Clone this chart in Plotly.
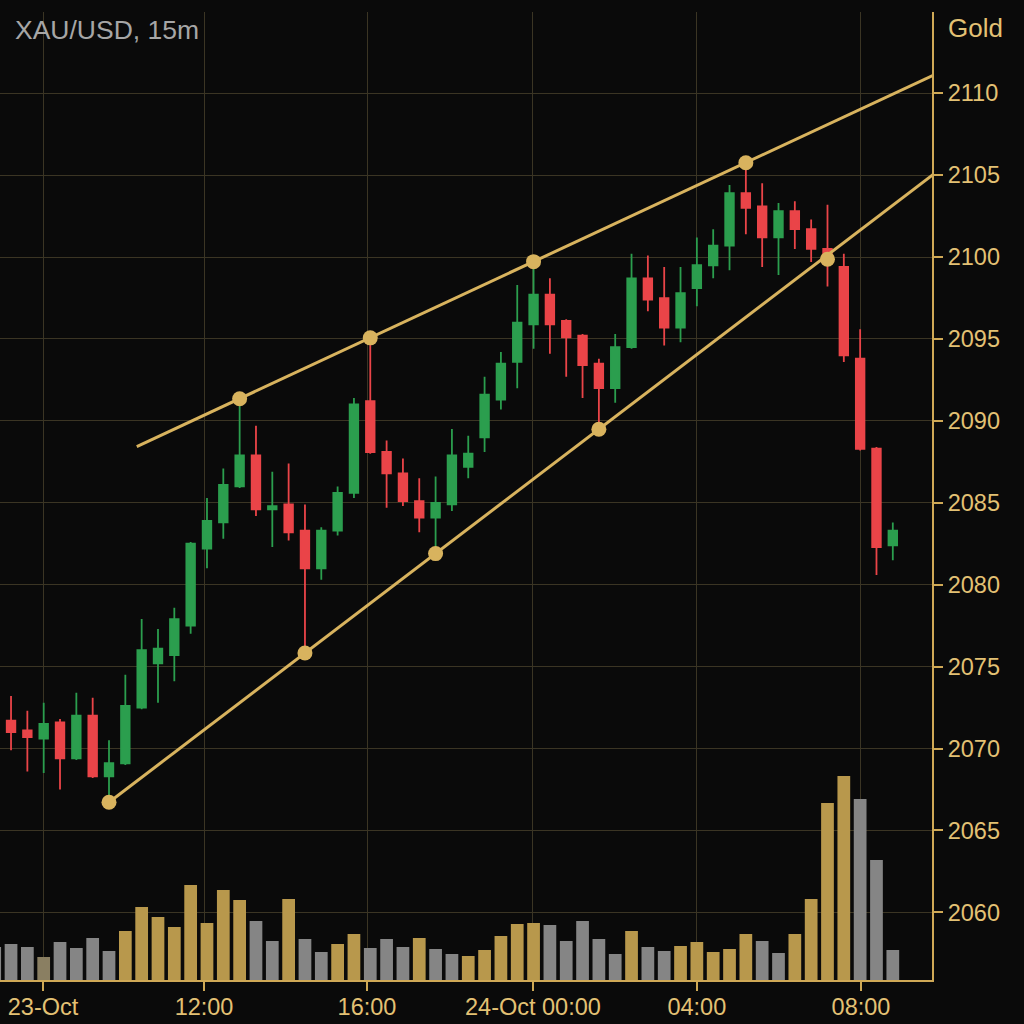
import plotly.graph_objects as go

# ---------------- data ----------------
candle_idx = list(range(56))
opens = [2071.2, 2071.7, 2071.1, 2070.6, 2071.6, 2069.4, 2072.0, 2068.3, 2069.1, 2072.5,
         2075.2, 2075.7, 2077.5, 2082.2, 2083.8, 2086.0, 2087.9, 2084.6, 2084.9, 2083.3,
         2081.0, 2083.3, 2085.6, 2091.2, 2088.1, 2086.8, 2085.1, 2084.1, 2084.9, 2087.2,
         2089.0, 2091.3, 2093.6, 2095.9, 2097.7, 2096.1, 2095.2, 2093.5, 2092.0, 2094.5,
         2098.7, 2097.5, 2095.7, 2098.1, 2099.5, 2100.7, 2103.9, 2103.1, 2101.2, 2102.8,
         2101.7, 2100.5, 2099.4, 2093.8, 2088.3, 2082.4]
highs = [2072.3, 2073.2, 2072.3, 2072.8, 2071.8, 2073.4, 2073.1, 2070.5, 2074.5, 2077.9,
         2077.3, 2078.6, 2082.6, 2085.3, 2087.1, 2091.35, 2089.7, 2086.9, 2087.4, 2084.9,
         2083.5, 2086.0, 2091.4, 2095.07, 2088.8, 2087.7, 2086.5, 2086.6, 2089.5, 2089.1,
         2092.7, 2094.2, 2098.3, 2099.72, 2098.7, 2096.2, 2095.3, 2093.8, 2095.3, 2100.2,
         2100.1, 2099.4, 2099.4, 2101.2, 2101.7, 2104.4, 2105.76, 2104.5, 2103.3, 2103.4,
         2102.3, 2103.2, 2100.2, 2095.6, 2088.4, 2083.8]
lows = [2071.1, 2069.9, 2068.6, 2068.5, 2067.5, 2069.3, 2068.2, 2066.72, 2069.0, 2072.4,
        2072.8, 2074.1, 2077.0, 2081.0, 2082.8, 2085.9, 2084.2, 2082.3, 2082.7, 2075.83,
        2080.3, 2083.0, 2085.3, 2088.0, 2084.7, 2084.8, 2083.2, 2081.90, 2084.5, 2086.5,
        2088.1, 2090.7, 2092.0, 2094.4, 2094.1, 2092.7, 2091.4, 2089.49, 2091.1, 2094.4,
        2096.7, 2094.6, 2094.8, 2097.0, 2098.7, 2099.2, 2101.4, 2099.4, 2098.9, 2100.5,
        2099.7, 2098.2, 2093.6, 2088.2, 2080.6, 2081.5]
closes = [2072.2, 2071.0, 2070.7, 2071.5, 2069.4, 2072.0, 2068.3, 2069.1, 2072.6, 2076.0,
          2076.1, 2077.9, 2082.5, 2083.9, 2086.1, 2087.9, 2084.6, 2084.8, 2083.2, 2081.0,
          2083.3, 2085.6, 2091.0, 2088.1, 2086.8, 2085.1, 2084.1, 2085.0, 2087.9, 2088.0,
          2091.6, 2093.5, 2096.0, 2097.7, 2095.9, 2095.1, 2093.4, 2092.0, 2094.5, 2098.7,
          2097.4, 2095.7, 2097.8, 2099.5, 2100.7, 2103.9, 2103.0, 2101.2, 2102.8, 2101.7,
          2100.5, 2099.8, 2094.0, 2088.3, 2082.3, 2083.3]

volume = [33, 36, 33, 23, 38, 32, 42, 29, 49, 73,
          63, 53, 95, 57, 90, 80, 59, 39, 81, 41,
          28, 36, 46, 32, 41, 33, 42, 31, 26, 24,
          30, 44, 56, 57, 55, 39, 59, 41, 26, 49,
          33, 29, 34, 38, 28, 31, 46, 39, 27, 46,
          81, 177, 204, 181, 120, 30]
volume_kind = list("sssossssgggggggg" "ssgssggsssgssggggg" "sssssgssgggggssggggsss")

# trendlines (channel)
upper_line_x = [8.7, 57.5]
upper_line_y = [2088.43, 2111.11]
upper_touch_x = [15, 23, 33, 46]
upper_touch_y = [2091.35, 2095.07, 2099.72, 2105.76]
lower_line_x = [7, 57.5]
lower_line_y = [2066.72, 2105.06]
lower_touch_x = [7, 19, 27, 37, 51]
lower_touch_y = [2066.72, 2075.83, 2081.90, 2089.49, 2099.87]

x_tick_vals = [2.96, 12.82, 22.8, 32.96, 43.0, 53.05]
x_tick_text = ["23-Oct", "12:00", "16:00", "24-Oct 00:00", "04:00", "08:00"]
y_tick_vals = [2060, 2065, 2070, 2075, 2080, 2085, 2090, 2095, 2100, 2105, 2110]

# ---------------- style ----------------
BG = "#0a0a0a"
GOLD = "#e3c174"
AXIS_GOLD = "#cfa956"
LINE_GOLD = "#d8b35e"
GRID = "#3b3524"
GREEN = "#2b9e4e"
RED = "#ea4448"
VOL_COLORS = {"g": "#b8984c", "s": "#858585", "o": "#8a7f62"}
FONT = "Liberation Sans, Arial, sans-serif"

fig = go.Figure()

fig.add_trace(go.Bar(
    x=candle_idx, y=volume, yaxis="y2",
    marker=dict(color=[VOL_COLORS[k] for k in volume_kind], line=dict(width=0)),
    showlegend=False, hoverinfo="skip",
))

fig.add_trace(go.Candlestick(
    x=candle_idx, open=opens, high=highs, low=lows, close=closes,
    increasing=dict(line=dict(color=GREEN, width=1.8), fillcolor=GREEN),
    decreasing=dict(line=dict(color=RED, width=1.8), fillcolor=RED),
    whiskerwidth=0, showlegend=False,
))

for lx, ly in ((upper_line_x, upper_line_y), (lower_line_x, lower_line_y)):
    fig.add_trace(go.Scatter(x=lx, y=ly, mode="lines",
                             line=dict(color=LINE_GOLD, width=3),
                             showlegend=False, hoverinfo="skip"))

fig.add_trace(go.Scatter(
    x=upper_touch_x + lower_touch_x, y=upper_touch_y + lower_touch_y,
    mode="markers", marker=dict(color=LINE_GOLD, size=15, line=dict(width=0)),
    showlegend=False, hoverinfo="skip",
))

fig.update_layout(
    width=1024, height=1024,
    paper_bgcolor=BG, plot_bgcolor=BG,
    margin=dict(l=0, r=92, t=12, b=44),
    boxgap=0.25, bargap=0.22,
    font=dict(family=FONT, color=GOLD, size=23),
    xaxis=dict(
        range=[0.3245, 57.4], tickmode="array", tickvals=x_tick_vals, ticktext=x_tick_text,
        showgrid=True, gridcolor=GRID, gridwidth=1, zeroline=False,
        ticks="outside", ticklen=9, tickwidth=1.5, tickcolor=AXIS_GOLD,
        showline=True, linecolor=AXIS_GOLD, linewidth=2,
        tickfont=dict(family=FONT, color=GOLD, size=23.5),
        ticklabelstandoff=-4,
        rangeslider=dict(visible=False), fixedrange=True,
    ),
    yaxis=dict(
        side="right", range=[2055.87, 2114.96], tickmode="array", tickvals=y_tick_vals,
        showgrid=True, gridcolor=GRID, gridwidth=1, zeroline=False,
        ticks="outside", ticklen=9, tickwidth=1.5, tickcolor=AXIS_GOLD,
        showline=True, linecolor=AXIS_GOLD, linewidth=2,
        tickfont=dict(family=FONT, color=GOLD, size=23.5),
    ),
    yaxis2=dict(overlaying="y", range=[0, 968], visible=False, showgrid=False),
    annotations=[
        dict(text="XAU/USD, 15m", xref="paper", yref="paper", x=13 / 932, y=(980 - 30) / 968,
             xanchor="left", yanchor="middle", showarrow=False,
             font=dict(family=FONT, size=26.5, color="#a6a6a6")),
        dict(text="Gold", xref="paper", yref="paper", x=946 / 932, y=(980 - 28) / 968,
             xanchor="left", yanchor="middle", showarrow=False,
             font=dict(family=FONT, size=26, color=GOLD)),
    ],
)

fig.write_html("out.html")
